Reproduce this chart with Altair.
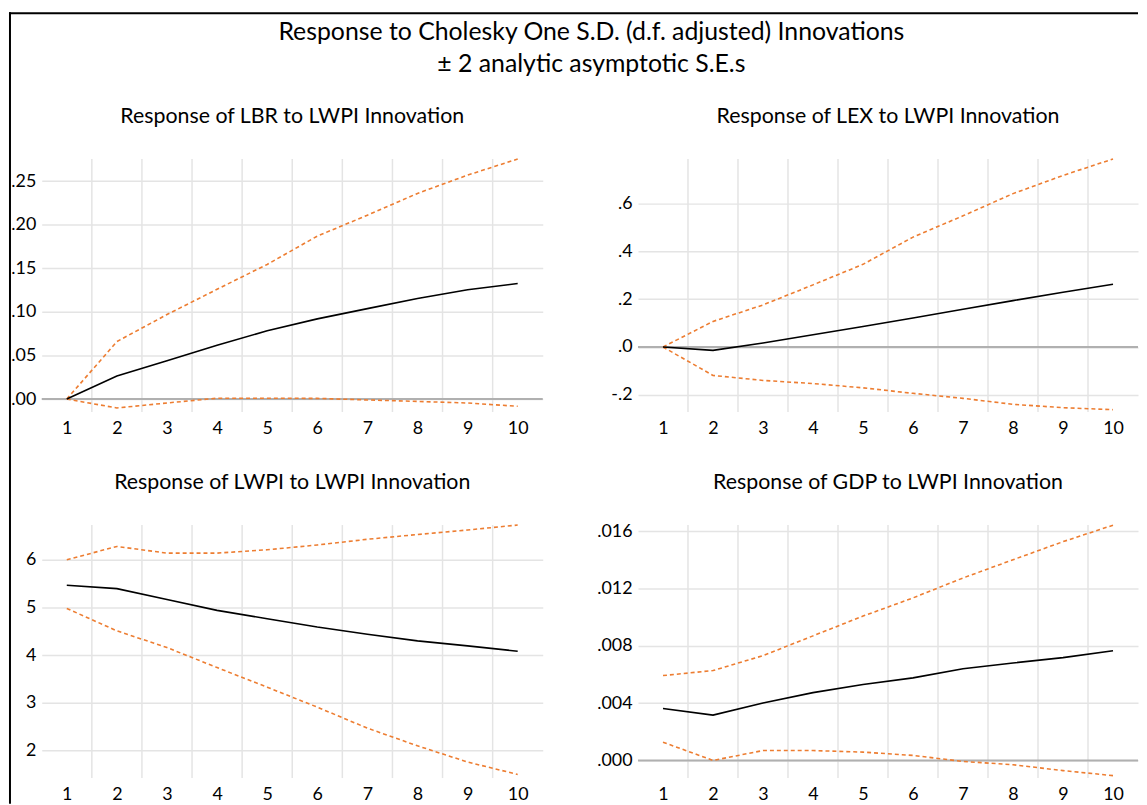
import altair as alt
import pandas as pd

# ---------------- data ----------------
PERIODS = [1, 2, 3, 4, 5, 6, 7, 8, 9, 10]
GRID_X = [1.5, 2.5, 3.5, 4.5, 5.5, 6.5, 7.5, 8.5, 9.5]

TITLE = "Response to Cholesky One S.D. (d.f. adjusted) Innovations"
SUBTITLE = "\u00b1 2 analytic asymptotic S.E.s"

PANEL_TITLES = [
    "Response of LBR to LWPI Innovation",
    "Response of LEX to LWPI Innovation",
    "Response of LWPI to LWPI Innovation",
    "Response of GDP to LWPI Innovation",
]

LBR_RESPONSE = [0.0, 0.0265, 0.044, 0.0617, 0.0784, 0.092, 0.1038, 0.1155, 0.1254, 0.1326]
LBR_UPPER = [0.0, 0.066, 0.097, 0.126, 0.1545, 0.187, 0.211, 0.236, 0.257, 0.2755]
LBR_LOWER = [0.0, -0.0102, -0.0045, 0.001, 0.001, 0.0008, -0.001, -0.0027, -0.0045, -0.0083]

LEX_RESPONSE = [0.0, -0.014, 0.0167, 0.051, 0.086, 0.121, 0.158, 0.194, 0.229, 0.2625]
LEX_UPPER = [0.0, 0.107, 0.176, 0.26, 0.346, 0.46, 0.549, 0.642, 0.718, 0.787]
LEX_LOWER = [0.0, -0.119, -0.14, -0.153, -0.171, -0.194, -0.215, -0.24, -0.254, -0.2625]

LWPI_RESPONSE = [5.465, 5.395, 5.167, 4.94, 4.764, 4.59, 4.44, 4.30, 4.195, 4.083]
LWPI_UPPER = [6.0, 6.28, 6.14, 6.14, 6.21, 6.31, 6.43, 6.53, 6.625, 6.728]
LWPI_LOWER = [4.98, 4.51, 4.16, 3.74, 3.33, 2.91, 2.47, 2.10, 1.76, 1.50]

GDP_RESPONSE = [0.00362, 0.00316, 0.00401, 0.00473, 0.0053, 0.00576, 0.00639, 0.0068, 0.00717, 0.00765]
GDP_UPPER = [0.00592, 0.00627, 0.00731, 0.00869, 0.01007, 0.01134, 0.01273, 0.014, 0.01526, 0.01641]
GDP_LOWER = [0.00127, 0.0, 0.00069, 0.00069, 0.00058, 0.00035, -0.00007, -0.0003, -0.00071, -0.00106]

LBR_TICKS = [0.0, 0.05, 0.10, 0.15, 0.20, 0.25]
LEX_TICKS = [-0.2, 0.0, 0.2, 0.4, 0.6]
LWPI_TICKS = [2, 3, 4, 5, 6]
GDP_TICKS = [0.0, 0.004, 0.008, 0.012, 0.016]

LBR_DOMAIN = [-0.0148, 0.2755]
LEX_DOMAIN = [-0.272, 0.787]
LWPI_DOMAIN = [1.424, 6.728]
GDP_DOMAIN = [-0.00123, 0.01642]

# ---------------- style ----------------
FONT = "Lato"
ORANGE = "#ED7D31"
GRID = "#e4e4e4"
ZERO = "#b0b0b0"
PANEL_H = 255


def panel(title, resp, upper, lower, domain, ticks, fmt, width, show_zero):
    df = pd.DataFrame({
        "period": PERIODS * 3,
        "value": resp + upper + lower,
        "series": ["Response"] * 10 + ["Upper"] * 10 + ["Lower"] * 10,
    })
    xscale = alt.Scale(domain=[0.5, 10.5], nice=False, zero=False)
    yscale = alt.Scale(domain=domain, nice=False, zero=False)
    xaxis = alt.Axis(values=PERIODS, format="d", grid=False, domain=False, ticks=False,
                     labelPadding=17, labelBaseline="middle", labelFontSize=18,
                     labelFont=FONT, labelColor="black", labelFlush=False,
                     labelOverlap=False, title=None)
    if fmt == "int":
        expr = "format(datum.value, 'd')"
    else:
        expr = ("replace(replace(format(datum.value, '" + fmt + "'), '0.', '.'), '\u2212', '-')")
    yaxis = alt.Axis(values=ticks, labelExpr=expr, grid=True, gridColor=GRID, gridWidth=1.5,
                     domain=False, ticks=False, labelPadding=6, labelFontSize=18,
                     labelFont=FONT, labelColor="black", labelOverlap=False,
                     labelFlush=False, title=None)

    vgrid = alt.Chart(pd.DataFrame({"g": GRID_X})).mark_rule(
        color=GRID, strokeWidth=1.5
    ).encode(x=alt.X("g:Q", scale=xscale, axis=xaxis))

    bands = alt.Chart(df).transform_filter(
        "datum.series != 'Response'"
    ).mark_line(color=ORANGE, strokeWidth=1.6, strokeDash=[4, 3]).encode(
        x=alt.X("period:Q", scale=xscale, axis=xaxis),
        y=alt.Y("value:Q", scale=yscale, axis=yaxis),
        detail="series:N",
    )
    line = alt.Chart(df).transform_filter(
        "datum.series == 'Response'"
    ).mark_line(color="black", strokeWidth=1.6).encode(
        x=alt.X("period:Q", scale=xscale, axis=xaxis),
        y=alt.Y("value:Q", scale=yscale, axis=yaxis),
    )
    layers = [vgrid]
    if show_zero:
        zero = alt.Chart(pd.DataFrame({"z": [0.0]})).mark_rule(
            color=ZERO, strokeWidth=2
        ).encode(y=alt.Y("z:Q", scale=yscale, axis=yaxis))
        layers.append(zero)
    layers += [bands, line]
    return alt.layer(*layers).properties(
        width=width, height=PANEL_H,
        title=alt.TitleParams(text=title, font=FONT, fontSize=21.5, fontWeight="normal",
                              color="black", anchor="middle", baseline="middle", offset=18),
    )


p1 = panel(PANEL_TITLES[0], LBR_RESPONSE, LBR_UPPER, LBR_LOWER, LBR_DOMAIN, LBR_TICKS, ".2f", 505, True)
p2 = panel(PANEL_TITLES[1], LEX_RESPONSE, LEX_UPPER, LEX_LOWER, LEX_DOMAIN, LEX_TICKS, ".1f", 504, True)
p3 = panel(PANEL_TITLES[2], LWPI_RESPONSE, LWPI_UPPER, LWPI_LOWER, LWPI_DOMAIN, LWPI_TICKS, "int", 505, False)
p4 = panel(PANEL_TITLES[3], GDP_RESPONSE, GDP_UPPER, GDP_LOWER, GDP_DOMAIN, GDP_TICKS, ".3f", 504, True)

one = pd.DataFrame({"a": [0]})
header = alt.layer(
    alt.Chart(pd.DataFrame({"t": [TITLE]})).mark_text(
        font=FONT, fontSize=25, color="black", align="center", baseline="middle"
    ).encode(text="t:N", x=alt.value(554), y=alt.value(19)),
    alt.Chart(pd.DataFrame({"t": [SUBTITLE]})).mark_text(
        font=FONT, fontSize=25, color="black", align="center", baseline="middle"
    ).encode(text="t:N", x=alt.value(554), y=alt.value(51)),
    alt.Chart(one).mark_rule(color="black", strokeWidth=2).encode(
        x=alt.value(-33), x2=alt.value(1105), y=alt.value(0)),
    alt.Chart(one).mark_rule(color="black", strokeWidth=2).encode(
        x=alt.value(-32), y=alt.value(-1), y2=alt.value(797)),
).properties(width=505, height=33)

spacer = alt.Chart(one).mark_rule(opacity=0).encode(
    x=alt.value(10), x2=alt.value(20), y=alt.value(17)
).properties(width=504, height=33)

chart = alt.concat(
    header, spacer, p1, p2, p3, p4,
    columns=2,
    spacing={"row": 114, "column": 96},
    bounds="flush",
).properties(
    padding=0,
    background="white",
).configure(
    font=FONT, padding=0
).configure_view(
    strokeWidth=0, stroke="transparent"
)

chart.save("out.html", embed_options={"renderer": "svg", "actions": False})
